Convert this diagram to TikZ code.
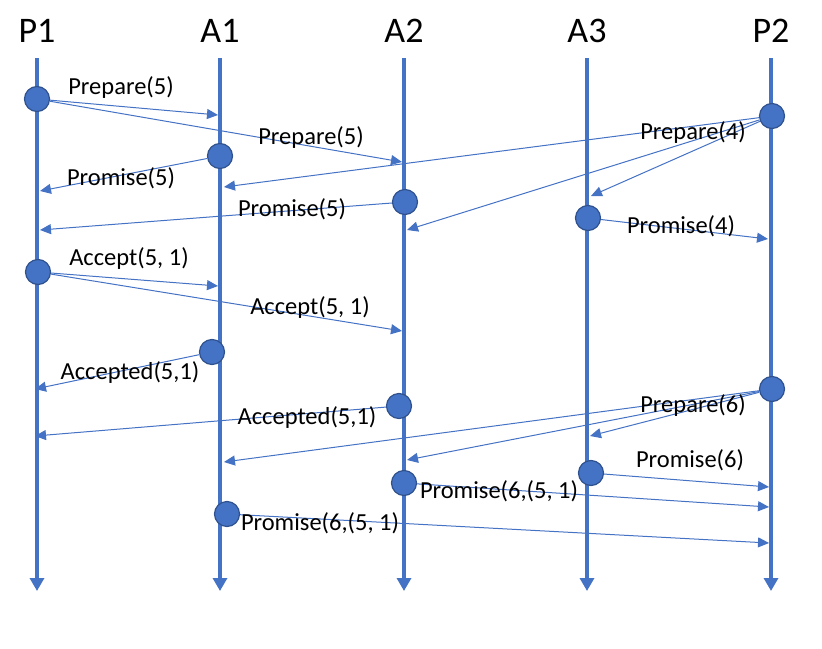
\documentclass[tikz,border=0pt]{standalone}
\usepackage{fontspec}
\setmainfont{Carlito}
\usetikzlibrary{arrows.meta}
\definecolor{pblue}{HTML}{4472C4}
\definecolor{pedge}{HTML}{2F528F}
\tikzset{
  life/.style={pblue, line width=4.5pt, -{Triangle[width=14pt,length=13pt]}},
  msg/.style={pblue, line width=1pt, -{Triangle[width=10pt,length=11pt]}},
  evt/.style={circle, fill=pblue, draw=pedge, line width=1.2pt, minimum size=25pt, inner sep=0pt},
  hdr/.style={font=\fontsize{36}{40}\selectfont, inner sep=0pt},
  lbl/.style={font=\fontsize{24.5}{28}\selectfont, inner sep=0pt},
}
\begin{document}
\begin{tikzpicture}[x=1pt, y=-1pt]
\useasboundingbox (0,0) rectangle (822,648);

% lifelines
\foreach \n/\x in {P1/37, A1/220, A2/404, A3/587, P2/771} {
  \node[hdr] (h\n) at (\x,31) {\n};
  \coordinate (top\n) at (\x,58);
  \coordinate (bot\n) at (\x,591);
  \draw[life] (top\n) -- (bot\n);
}

% events
\node[evt] (p1a) at (37,99) {};
\node[evt] (a1a) at (220,156) {};
\node[evt] (a2a) at (405,202) {};
\node[evt] (p2a) at (772,116) {};
\node[evt] (a3a) at (588,218) {};
\node[evt] (p1b) at (38,272) {};
\node[evt] (a1b) at (212,352) {};
\node[evt] (a2b) at (399,406) {};
\node[evt] (p2b) at (772,389) {};
\node[evt] (a3b) at (591,473) {};
\node[evt] (a2c) at (404,483) {};
\node[evt] (a1c) at (227,514) {};

% message ends
\coordinate (m1) at (218,115);
\coordinate (m2) at (402,162);
\coordinate (m3) at (40,191);
\coordinate (m4) at (40,230);
\coordinate (m5) at (224,187);
\coordinate (m6) at (407,230);
\coordinate (m7) at (591,196);
\coordinate (m8) at (768,239);
\coordinate (m9) at (218,286);
\coordinate (m10) at (402,331);
\coordinate (m11) at (35,389);
\coordinate (m12) at (35,436);
\coordinate (m13) at (224,462);
\coordinate (m14) at (407,460);
\coordinate (m15) at (590,436);
\coordinate (m16) at (769,487);
\coordinate (m17) at (769,507);
\coordinate (m18) at (769,543);

% messages
\draw[msg] (p1a) -- (m1);
\draw[msg] (p1a) -- (m2);
\draw[msg] (a1a) -- (m3);
\draw[msg] (a2a) -- (m4);
\draw[msg] (p2a) -- (m5);
\draw[msg] (p2a) -- (m6);
\draw[msg] (p2a) -- (m7);
\draw[msg] (a3a) -- (m8);
\draw[msg] (p1b) -- (m9);
\draw[msg] (p1b) -- (m10);
\draw[msg] (a1b) -- (m11);
\draw[msg] (a2b) -- (m12);
\draw[msg] (p2b) -- (m13);
\draw[msg] (p2b) -- (m14);
\draw[msg] (p2b) -- (m15);
\draw[msg] (a3b) -- (m16);
\draw[msg] (a2c) -- (m17);
\draw[msg] (a1c) -- (m18);

% labels
\node[lbl] (l1) at (121,88) {Prepare(5)};
\node[lbl] (l2) at (311,138) {Prepare(5)};
\node[lbl] (l3) at (121,178) {Promise(5)};
\node[lbl] (l4) at (292,209) {Promise(5)};
\node[lbl] (l7) at (693,133) {Prepare(4)};
\node[lbl] (l8) at (681,226) {Promise(4)};
\node[lbl] (l9) at (129,259) {Accept(5, 1)};
\node[lbl] (l10) at (310,308) {Accept(5, 1)};
\node[lbl] (l11) at (130,373) {Accepted(5,1)};
\node[lbl] (l12) at (307,418) {Accepted(5,1)};
\node[lbl] (l15) at (693,406) {Prepare(6)};
\node[lbl] (l16) at (690,460) {Promise(6)};
\node[lbl] (l17) at (499,491) {Promise(6,(5, 1)};
\node[lbl] (l18) at (320,523) {Promise(6,(5, 1)};
\end{tikzpicture}
\end{document}
